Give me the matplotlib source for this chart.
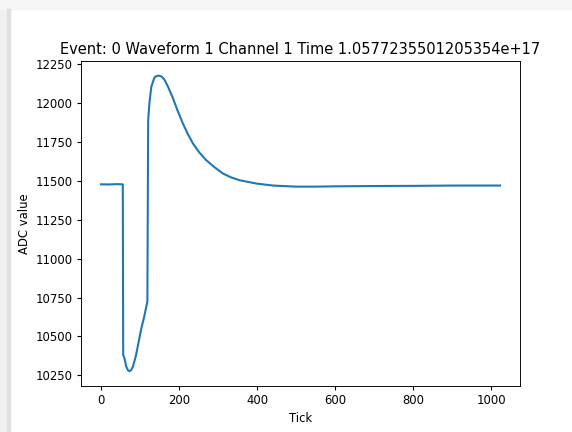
import numpy as np
import matplotlib
matplotlib.use("Agg")
import matplotlib.pyplot as plt
from matplotlib.patches import Rectangle

# waveform (tick, ADC value)
ticks = [0, 20, 40, 56, 57, 60, 65, 69, 73, 77, 82, 90, 97, 103, 112, 119,
         121, 124, 129, 137, 144, 150, 156, 163, 172, 184, 196, 210, 223, 236,
         252, 270, 290, 313, 334, 356, 398, 441, 500, 550, 600, 700, 800, 900,
         1023]
adc = [11478, 11477, 11479, 11478, 10380, 10362, 10305, 10283, 10276, 10282,
       10305, 10380, 10470, 10545, 10640, 10725, 11885, 11997, 12104, 12165,
       12176, 12176, 12170, 12150, 12105, 12035, 11955, 11869, 11800, 11740,
       11683, 11633, 11590, 11547, 11522, 11504, 11483, 11470, 11463, 11463,
       11465, 11467, 11468, 11470, 11470]

title = "Event: 0 Waveform 1 Channel 1 Time 1.0577235501205354e+17"

W, H = 572, 432
s = 0.84  # screenshot scale relative to matplotlib defaults

plt.rcParams.update({
    "font.size": 10 * s,
    "axes.titlesize": 12 * 0.88,
    "axes.labelsize": 10 * s,
    "xtick.labelsize": 10 * s,
    "ytick.labelsize": 10 * s,
    "xtick.major.size": 3.5 * s,
    "ytick.major.size": 3.5 * s,
    "xtick.major.pad": 3.5 * s,
    "ytick.major.pad": 3.5 * s,
    "axes.linewidth": 0.8 * s,
    "axes.titlepad": 6 * s,
    "axes.labelpad": 4 * s,
})

fig = plt.figure(figsize=(W / 100, H / 100), dpi=100)

# screenshot shadow along the left and top edges
fig.patches.append(Rectangle((0, 0), 10 / W, 1, transform=fig.transFigure,
                             color="#f0f0f0", zorder=0))
fig.patches.append(Rectangle((0, 1 - 9 / H), 1, 9 / H, transform=fig.transFigure,
                             color="#f5f5f5", zorder=0))
fig.patches.append(Rectangle((7 / W, 0), 3 / W, 1 - 9 / H, transform=fig.transFigure,
                             color="#e0e0e0", zorder=0))

left, right, top, bottom = 81, 520, 61, 386
ax = fig.add_axes([left / W, 1 - bottom / H, (right - left) / W, (bottom - top) / H])
ax.plot(ticks, adc, color="#1f77b4", linewidth=1.5)
ax.set_title(title)
ax.set_xlabel("Tick")
ax.set_ylabel("ADC value")

fig.savefig("out.png", dpi=100)
